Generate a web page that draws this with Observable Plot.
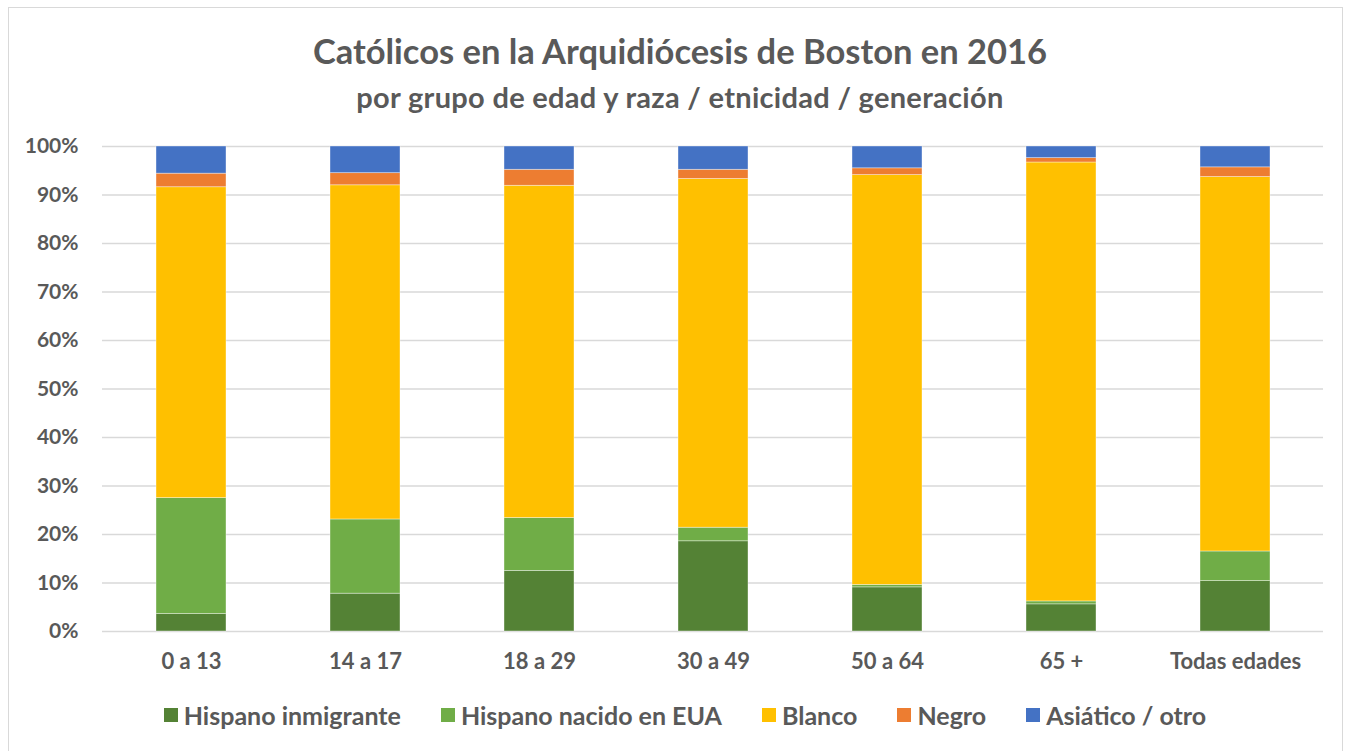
<!DOCTYPE html>
<html>
<head>
<meta charset="utf-8">
<script src="https://cdn.jsdelivr.net/npm/d3@7"></script>
<script src="https://cdn.jsdelivr.net/npm/@observablehq/plot@0.6"></script>
<style>
  html, body { margin: 0; padding: 0; background: #fff; }
  #frame { position: absolute; left: 8px; top: 7px; width: 1335px; height: 750px; border: 1px solid #d9d9d9; box-sizing: border-box; }
  .t { position: absolute; left: 0; width: 1360px; text-align: center; font-family: Lato, sans-serif; font-weight: 700; color: #595959; white-space: nowrap; }
  #title { top: 30px; font-size: 34.5px; }
  #subtitle { top: 79px; font-size: 29px; letter-spacing: 0.3px; }
  #chart { position: absolute; left: 0; top: 130px; }
  #legend { position: absolute; top: 700px; left: 0; width: 1370px; display: flex; justify-content: center; gap: 40px; font-family: Lato, sans-serif; font-weight: 700; font-size: 25px; color: #595959; }
  #legend .item { display: flex; align-items: center; gap: 6px; }
  #legend .sw { width: 14px; height: 14px; display: inline-block; }
  #chart text { font-family: Lato, sans-serif; }
</style>
</head>
<body>
<div id="frame"></div>
<div class="t" id="title">Católicos en la Arquidiócesis de Boston en 2016</div>
<div class="t" id="subtitle">por grupo de edad y raza / etnicidad / generación</div>
<div id="chart"></div>
<div id="legend"></div>
<script>
const categories = ["0 a 13", "14 a 17", "18 a 29", "30 a 49", "50 a 64", "65 +", "Todas edades"];
const series = ["Hispano inmigrante", "Hispano nacido en EUA", "Blanco", "Negro", "Asiático / otro"];
const colors = ["#548235", "#70AD47", "#FFC000", "#ED7D31", "#4472C4"];
// percentages per category
const hispanoInmigrante = [3.6, 7.8, 12.5, 18.6, 9.1, 5.6, 10.4];
const hispanoNacido     = [23.9, 15.3, 10.9, 2.8, 0.5, 0.6, 6.1];
const blanco            = [64.1, 68.9, 68.5, 71.9, 84.5, 90.5, 77.2];
const negro             = [2.8, 2.5, 3.3, 1.9, 1.4, 0.9, 2.0];
const asiatico          = [5.6, 5.5, 4.8, 4.8, 4.5, 2.4, 4.3];
const yTicks = [0, 0.1, 0.2, 0.3, 0.4, 0.5, 0.6, 0.7, 0.8, 0.9, 1];

const seriesValues = [hispanoInmigrante, hispanoNacido, blanco, negro, asiatico];
const data = [];
series.forEach((s, si) => {
  categories.forEach((c, ci) => {
    data.push({category: c, series: s, value: seriesValues[si][ci] / 100});
  });
});

const chart = Plot.plot({
  width: 1351,
  height: 560,
  marginLeft: 102,
  marginRight: 28,
  marginTop: 16,
  marginBottom: 59,
  style: {fontFamily: "Lato, sans-serif", background: "transparent"},
  x: {domain: categories, paddingInner: 0.6, paddingOuter: 0.3, label: null},
  y: {domain: [0, 1], label: null},
  color: {domain: series, range: colors},
  marks: [
    Plot.gridY(yTicks, {stroke: "#d9d9d9", strokeOpacity: 1, strokeWidth: 1.5}),
    Plot.barY(data, {
      x: "category", y: "value", fill: "series",
      order: series,
      stroke: "white", strokeWidth: 0.75, strokeOpacity: 0.5
    }),
    Plot.axisY(yTicks, {tickSize: 0, tickPadding: 24, tickFormat: d3.format(".0%"), fontSize: 21, fontWeight: 700, fill: "#595959", label: null}),
    Plot.axisX({tickSize: 0, tickPadding: 22, fontSize: 22, fontWeight: 700, fill: "#595959", label: null})
  ]
});
document.getElementById("chart").appendChild(chart);

const legend = document.getElementById("legend");
series.forEach((s, i) => {
  const item = document.createElement("div");
  item.className = "item";
  const sw = document.createElement("span");
  sw.className = "sw";
  sw.style.background = colors[i];
  const label = document.createElement("span");
  label.textContent = s;
  item.appendChild(sw);
  item.appendChild(label);
  legend.appendChild(item);
});
</script>
</body>
</html>
